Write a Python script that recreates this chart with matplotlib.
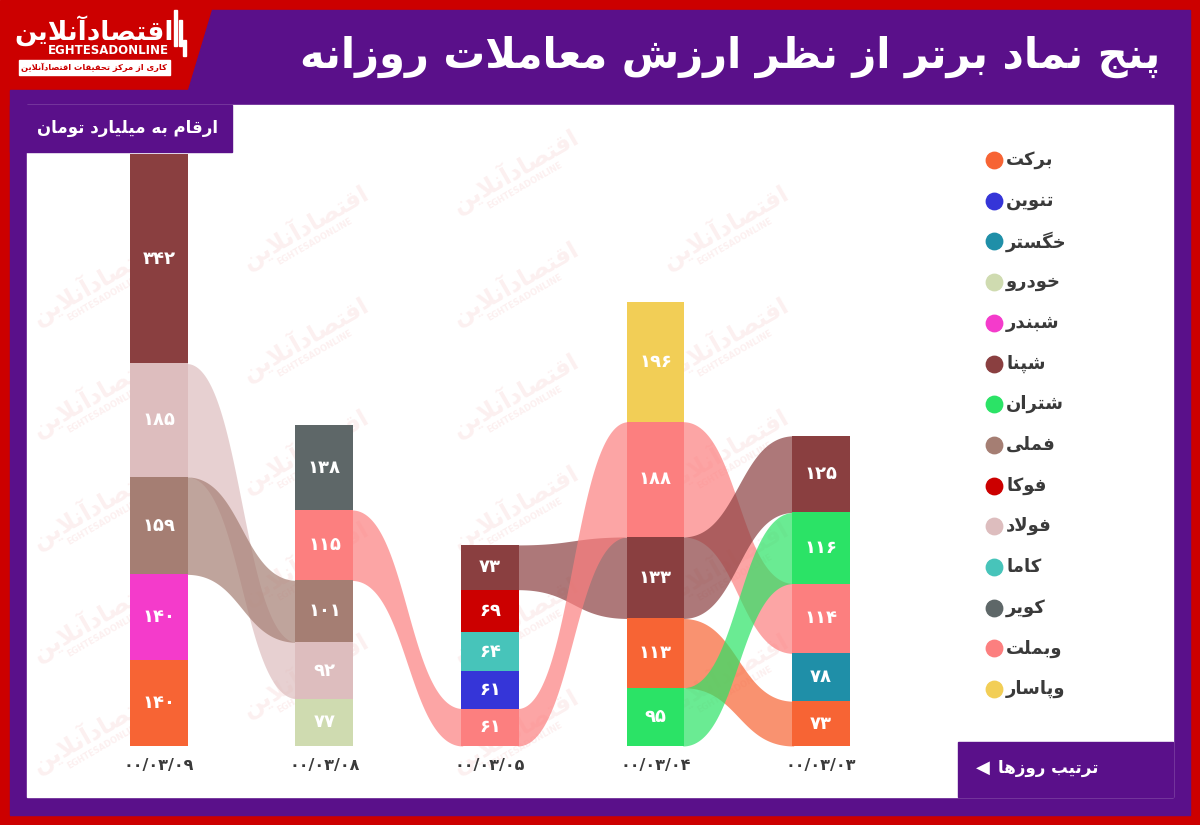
import numpy as np
import matplotlib
matplotlib.use("Agg")
import matplotlib.pyplot as plt
from matplotlib.patches import Rectangle, Polygon

# top five symbols by daily trade value, each column listed top -> bottom
dates = ["00/03/09", "00/03/08", "00/03/05", "00/03/04", "00/03/03"]
names_0309 = ["شپنا", "فولاد", "فملی", "شبندر", "برکت"]
values_0309 = [342, 185, 159, 140, 140]
names_0308 = ["کویر", "وبملت", "فملی", "فولاد", "خودرو"]
values_0308 = [138, 115, 101, 92, 77]
names_0305 = ["شپنا", "فوکا", "کاما", "تنوین", "وبملت"]
values_0305 = [73, 69, 64, 61, 61]
names_0304 = ["وپاسار", "وبملت", "شپنا", "برکت", "شتران"]
values_0304 = [196, 188, 133, 113, 95]
names_0303 = ["شپنا", "شتران", "وبملت", "خگستر", "برکت"]
values_0303 = [125, 116, 114, 78, 73]

legend_names = ["برکت", "تنوین", "خگستر", "خودرو", "شبندر", "شپنا", "شتران",
                "فملی", "فوکا", "فولاد", "کاما", "کویر", "وبملت", "وپاسار"]

title = "پنج نماد برتر از نظر ارزش معاملات روزانه"
subtitle = "ارقام به میلیارد تومان"
order_note = "ترتیب روزها"

colors = {
    "برکت": "#f76434", "تنوین": "#3535d8", "خگستر": "#1f8fa8",
    "خودرو": "#cfdbb0", "شبندر": "#f43bcb", "شپنا": "#8a3f40",
    "شتران": "#2be366", "فملی": "#a57e73", "فوکا": "#cc0000",
    "فولاد": "#ddbdbe", "کاما": "#47c4ba", "کویر": "#5e6768",
    "وبملت": "#fc7f7f", "وپاسار": "#f2ce56",
}
RED = "#cc0000"
PURPLE = "#5a108a"
TXT = "#3a3a3a"

# --- minimal Persian shaping (matplotlib does no shaping / bidi) ---
DUAL = {"ب": 0xFE8F, "ت": 0xFE95, "ث": 0xFE99, "ج": 0xFE9D, "ح": 0xFEA1,
        "خ": 0xFEA5, "س": 0xFEB1, "ش": 0xFEB5, "ص": 0xFEB9, "ض": 0xFEBD,
        "ط": 0xFEC1, "ظ": 0xFEC5, "ع": 0xFEC9, "غ": 0xFECD, "ف": 0xFED1,
        "ق": 0xFED5, "ل": 0xFEDD, "م": 0xFEE1, "ن": 0xFEE5, "ه": 0xFEE9,
        "پ": 0xFB56, "چ": 0xFB7A, "ک": 0xFB8E, "گ": 0xFB92, "ی": 0xFBFC}
RIGHT = {"ا": 0xFE8D, "آ": 0xFE81, "د": 0xFEA9, "ذ": 0xFEAB, "ر": 0xFEAD,
         "ز": 0xFEAF, "ژ": 0xFB8A, "و": 0xFEED}


def shape(s):
    out = []
    i = 0
    while i < len(s):
        c = s[i]
        prev = s[i - 1] if i > 0 else ""
        nxt = s[i + 1] if i + 1 < len(s) else ""
        link_prev = prev in DUAL and (c in DUAL or c in RIGHT)
        if c == "ل" and nxt in ("ا", "آ"):
            base = 0xFEFB if nxt == "ا" else 0xFEF5
            out.append(chr(base + int(link_prev)))
            i += 2
            continue
        if c in DUAL:
            link_next = nxt in DUAL or nxt in RIGHT
            off = {(False, False): 0, (True, False): 1,
                   (False, True): 2, (True, True): 3}[(link_prev, link_next)]
            out.append(chr(DUAL[c] + off))
        elif c in RIGHT:
            out.append(chr(RIGHT[c] + int(link_prev)))
        else:
            out.append(c)
        i += 1
    return "".join(out)[::-1]


def fa(s):
    return str(s).translate(str.maketrans("0123456789", "۰۱۲۳۴۵۶۷۸۹"))


plt.rcParams["font.family"] = ["DejaVu Sans"]

fig = plt.figure(figsize=(12, 8.25), dpi=100)

# ---- frame / background in pixel space ----
bg = fig.add_axes([0, 0, 1, 1])
bg.set_xlim(0, 1200)
bg.set_ylim(825, 0)
bg.axis("off")
bg.add_patch(Rectangle((0, 0), 1200, 825, color=RED))
bg.add_patch(Polygon([(212, 10), (1190, 10), (1190, 815), (10, 815),
                      (10, 90), (188, 90)], closed=True, color=PURPLE))
bg.add_patch(Rectangle((27, 105), 1146, 692, color="white"))

# faint watermark inside the white panel
for cx in [95, 305, 515, 725]:
    shift = 56 if (cx // 210) % 2 else 0
    for cy in np.arange(170 + shift, 740, 112):
        if cx < 200 and cy < 200:
            continue
        bg.text(cx, cy, shape("اقتصادآنلاین"), fontsize=17, weight="bold",
                color="#ee9a9a", alpha=0.15, rotation=30,
                ha="center", va="center")
        bg.text(cx + 10, cy + 16, "EGHTESADONLINE", fontsize=6, weight="bold",
                color="#ee9a9a", alpha=0.15, rotation=30,
                ha="center", va="center")

bg.add_patch(Rectangle((10, 105), 222, 47, color=PURPLE))
bg.add_patch(Rectangle((958, 742), 215, 55, color=PURPLE))

# logo
bg.text(94, 31, shape("اقتصادآنلاین"), fontsize=19, weight="bold",
        color="white", ha="center", va="center")
bg.text(108, 51, "EGHTESADONLINE", fontsize=8.5, weight="bold",
        color="white", ha="center", va="center")
bg.add_patch(Rectangle((19, 60), 151, 15, color="white"))
bg.text(94, 67.5, shape("کاری از مرکز تحقیقات اقتصادآنلاین"), fontsize=6,
        weight="bold", color=RED, ha="center", va="center")
for bx, by0, by1 in [(174, 10, 46), (179, 20, 46), (183, 40, 56)]:
    bg.add_patch(Rectangle((bx, by0), 2.5, by1 - by0, color="white"))

bg.text(1160, 57, shape(title), fontsize=30, weight="bold", color="white",
        ha="right", va="center")
bg.text(218, 128, shape(subtitle), fontsize=12, weight="bold", color="white",
        ha="right", va="center")
bg.text(1098, 768, shape(order_note), fontsize=12, weight="bold",
        color="white", ha="right", va="center")
bg.text(983, 768, "◀", fontsize=13, color="white", ha="center", va="center")

# legend
for k, name in enumerate(legend_names):
    y = 160 + k * 40.7
    bg.scatter([994], [y], s=140, color=colors[name], zorder=3)
    bg.text(1006, y, shape(name), fontsize=13, weight="bold", color=TXT,
            ha="left", va="center")

# ---- chart ----
ax = fig.add_axes([0.0635, 0.0958, 0.6896, 0.743])
ax.set_facecolor("none")
ax.set_xlim(-0.5, 4.5)
ax.set_ylim(0, 1000)
for s in ax.spines.values():
    s.set_visible(False)
ax.set_yticks([])

columns = [(names_0309, values_0309), (names_0308, values_0308),
           (names_0305, values_0305), (names_0304, values_0304),
           (names_0303, values_0303)]
bw = 0.35

spans = []
for i, (names, vals) in enumerate(columns):
    top = float(sum(vals))
    seg = {}
    for n, v in zip(names, vals):
        bottom = top - v
        ax.bar(i, v, bottom=bottom, width=bw, color=colors[n], lw=0, zorder=3)
        ax.text(i, bottom + v / 2, fa(v), ha="center", va="center",
                color="white", fontsize=13, weight="bold", zorder=4)
        seg[n] = (bottom, top)
        top = bottom
    spans.append(seg)

# ribbons linking the same symbol in neighbouring days
t = np.linspace(0, 1, 80)
sx = 1.5 * t * (1 - t) + t ** 3
sy = 3 * t ** 2 - 2 * t ** 3
for i in range(len(columns) - 1):
    x0, x1 = i + bw / 2 - 0.01, i + 1 - bw / 2 + 0.01
    xs = x0 + (x1 - x0) * sx
    for n, (b0, t0) in spans[i].items():
        if n not in spans[i + 1]:
            continue
        b1, t1 = spans[i + 1][n]
        ax.fill_between(xs, b0 + (b1 - b0) * sy, t0 + (t1 - t0) * sy,
                        color=colors[n], alpha=0.7, lw=0, zorder=2)

ax.set_xticks(range(len(dates)))
ax.set_xticklabels([fa(d) for d in dates], fontsize=11.5, weight="bold",
                   color=TXT)
ax.tick_params(axis="x", length=0, pad=9)

fig.savefig("out.png", dpi=100)
